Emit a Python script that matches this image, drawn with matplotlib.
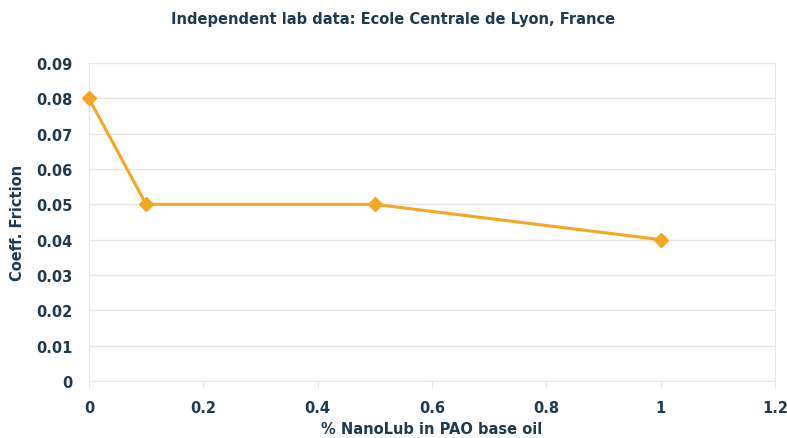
import matplotlib
matplotlib.use('Agg')
import matplotlib.pyplot as plt

pct_nanolub = [0, 0.1, 0.5, 1.0]
coeff_friction = [0.08, 0.05, 0.05, 0.04]
y_ticks = [0, 0.01, 0.02, 0.03, 0.04, 0.05, 0.06, 0.07, 0.08, 0.09]
x_ticks = [0, 0.2, 0.4, 0.6, 0.8, 1.0, 1.2]
x_labels = ['0', '0.2', '0.4', '0.6', '0.8', '1', '1.2']

txt = '#1e3a4f'
grid = '#e6e6e6'
orange = '#f5a623'

plt.rcParams['font.family'] = ['DejaVu Sans']

fig = plt.figure(figsize=(7.87, 4.39), dpi=100)
ax = fig.add_axes([0.113, 0.130, 0.872, 0.724])

ax.plot(pct_nanolub, coeff_friction, color=orange, lw=2.2, marker='D', ms=7,
        markerfacecolor=orange, markeredgecolor=orange, clip_on=False, zorder=3)

ax.set_xlim(0, 1.2)
ax.set_ylim(0, 0.09)
ax.set_yticks(y_ticks)
ax.set_yticklabels(['0'] + ['%.2f' % v for v in y_ticks[1:]])
ax.set_xticks(x_ticks)
ax.set_xticklabels(x_labels)
ax.grid(axis='y', color=grid, lw=1)
ax.set_axisbelow(True)

ax.spines['top'].set_visible(False)
for s in ['left', 'bottom', 'right']:
    ax.spines[s].set_color(grid)
ax.tick_params(axis='x', colors=grid, length=5, pad=9, labelcolor=txt, labelsize=10.5)
ax.tick_params(axis='y', colors=grid, length=0, pad=12, labelcolor=txt, labelsize=10.5)
for lab in ax.get_xticklabels() + ax.get_yticklabels():
    lab.set_fontweight('bold')

ax.set_xlabel('% NanoLub in PAO base oil', color=txt, fontsize=10.5, fontweight='bold', labelpad=4)
ax.set_ylabel('Coeff. Friction', color=txt, fontsize=10.5, fontweight='bold', labelpad=8)
fig.text(0.5, 0.955, 'Independent lab data: Ecole Centrale de Lyon, France', ha='center',
         va='center', color=txt, fontsize=10.5, fontweight='bold')

fig.savefig('out.png', dpi=100, facecolor='white')
